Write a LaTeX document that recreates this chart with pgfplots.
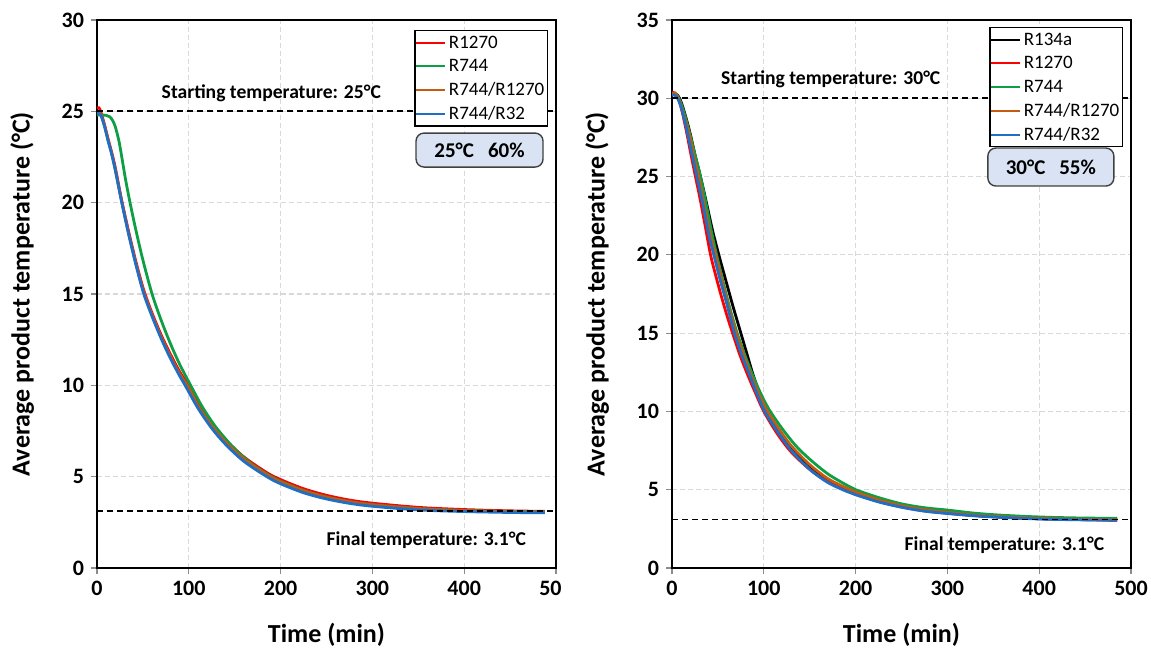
\documentclass[border=0pt]{standalone}
\usepackage{fontspec}
\setmainfont{Carlito}
\usepackage{pgfplots}
\pgfplotsset{compat=1.18}

\definecolor{cRed}{HTML}{FF0000}
\definecolor{cGreen}{HTML}{0E9F45}
\definecolor{cOrange}{HTML}{C55A11}
\definecolor{cBlue}{HTML}{1F6FC4}
\definecolor{tickgray}{HTML}{8C8C8C}
\definecolor{gridgray}{HTML}{D9D9D9}
\definecolor{boxfill}{HTML}{DAE3F3}
\definecolor{boxborder}{HTML}{404040}

\pgfplotsset{
  panel/.style={
    scale only axis, width=229.5pt, height=274pt,
    xmin=0, xmax=500, ymin=0,
    xtick={0,100,...,500},
    axis line style={line width=1.3pt},
    tick style={draw=tickgray, line width=0.6pt},
    major tick length=3pt,
    tick align=outside,
    xtick pos=bottom, ytick pos=left,
    grid=major,
    grid style={draw=gridgray, line width=0.6pt, dash pattern=on 2.5pt off 1.5pt},
    ticklabel style={font=\fontsize{11}{13}\selectfont\bfseries},
    /pgf/number format/assume math mode=true,
    label style={font=\fontsize{13}{15}\selectfont\bfseries},
    xlabel={Time (min)},
    ylabel={Average product temperature (°C)},
    xlabel style={at={(axis description cs:0.5,-0.122)}, anchor=center},
    ylabel style={at={(axis description cs:-0.163,0.5)}, anchor=center},
    legend cell align=left,
    legend style={anchor=north east, draw=black, line width=0.7pt, fill=white,
      inner xsep=0pt, inner ysep=0pt,
      font=\fontsize{9.5}{11}\selectfont,
      nodes={inner xsep=1.5pt, inner ysep=0.5pt, text height=8.2pt, text depth=2.7pt}},
    legend image code/.code={\draw[#1, line width=1pt] (0pt,0pt) -- (14.5pt,0pt);},
  },
  curve/.style={line width=1.4pt, smooth, tension=0.5},
  refline/.style={black, line width=0.9pt, dash pattern=on 3pt off 2pt, forget plot},
}
\tikzset{
  note/.style={anchor=base east, font=\fontsize{9.8}{12}\selectfont\bfseries},
  infobox/.style={draw=boxborder, fill=boxfill, rounded corners=4pt, line width=0.7pt,
    font=\fontsize{10.5}{12}\selectfont\bfseries},
}

\begin{document}
\begin{tikzpicture}
\begin{scope}
\clip (-60pt,-60pt) rectangle (232.4pt,300pt);
\begin{axis}[panel, at={(0,0)}, anchor=south west, ymax=30, ytick={0,5,...,30},
  legend style={at={(0.9826,0.9818)}}]
\addplot[curve, cRed] table {
t T
0 25.2
2 25.2
4 25.0
8 24.3
12 23.5
16 22.75
20 21.9
27 20.1
35 18.3
43 16.65
51 15.2
60 13.95
70 12.75
80 11.7
90 10.75
100 9.95
110 9.0
125 7.9
140 7.02
160 6.08
185 5.22
200 4.84
225 4.34
250 3.98
275 3.72
300 3.55
350 3.32
400 3.2
450 3.13
488 3.1
};
\addlegendentry{R1270}
\addplot[curve, cGreen] table {
t T
0 24.8
5 24.8
10 24.78
14 24.7
17 24.5
20 24.15
24 23.35
27 22.5
31 21.3
36 20.0
42 18.58
50 16.86
60 15.0
70 13.55
80 12.28
90 11.16
102 10.0
115 8.8
130 7.68
150 6.52
170 5.64
190 5.0
200 4.75
225 4.25
250 3.89
275 3.64
300 3.47
350 3.26
400 3.15
450 3.1
488 3.08
};
\addlegendentry{R744}
\addplot[curve, cOrange] table {
t T
0 25.0
4 24.85
8 24.25
12 23.45
16 22.7
20 21.8
27 20.05
35 18.2
43 16.55
51 15.1
60 13.85
70 12.65
80 11.58
90 10.63
100 9.85
110 8.88
125 7.78
140 6.9
160 5.96
185 5.11
200 4.72
225 4.23
250 3.88
275 3.63
300 3.46
350 3.25
400 3.14
450 3.08
488 3.06
};
\addlegendentry{R744/R1270}
\addplot[curve, cBlue] table {
t T
0 24.9
4 24.8
8 24.2
12 23.4
16 22.65
20 21.75
27 20.0
35 18.15
43 16.48
51 15.0
60 13.77
70 12.55
80 11.47
90 10.52
96 10.0
110 8.75
125 7.65
140 6.77
160 5.84
185 5.0
200 4.61
225 4.12
250 3.78
275 3.54
300 3.38
350 3.18
400 3.09
450 3.04
488 3.02
};
\addlegendentry{R744/R32}
\addplot[refline] coordinates {(0,25) (500,25)};
\addplot[refline] coordinates {(0,3.1) (500,3.1)};
\node[note] at (axis cs:317,25.7) {Starting temperature: 25°C};
\node[note] at (axis cs:475,1.25) {Final temperature: 3.1°C};
\node[infobox, minimum width=63.5pt, minimum height=17pt] at (axis cs:416.7,22.88) {25°C\hspace{7pt}60\%};
\end{axis}
\end{scope}

\begin{axis}[panel, at={(287.5pt,0)}, anchor=south west, ymax=35, ytick={0,5,...,35},
  legend style={at={(0.9825,0.9872)}}]
\addplot[curve, black] table {
t T
0 30.3
3 30.3
6 30.2
9 29.9
12 29.4
16 28.6
20 27.7
25 26.4
31 25.0
38 23.2
44 21.6
51 20.0
58 18.5
66 16.8
75 15.0
82 13.6
88 12.4
95 11.2
104 10.0
115 8.9
130 7.7
150 6.5
170 5.6
190 5.0
200 4.75
225 4.3
250 3.95
275 3.7
300 3.52
330 3.36
360 3.25
400 3.15
440 3.1
485 3.07
};
\addlegendentry{R134a}
\addplot[curve, cRed] table {
t T
0 30.35
3 30.35
6 30.1
9 29.6
12 28.9
16 27.8
20 26.6
25 25.15
30 23.75
36 21.9
42 20.0
48 18.6
54 17.3
60 16.1
66 15.0
74 13.6
82 12.4
90 11.3
100 10.0
115 8.55
130 7.4
150 6.3
170 5.5
190 4.95
200 4.7
225 4.25
250 3.9
275 3.65
300 3.5
330 3.35
360 3.25
400 3.15
440 3.1
485 3.05
};
\addlegendentry{R1270}
\addplot[curve, cGreen] table {
t T
0 30.3
3 30.3
6 30.15
9 29.8
12 29.3
16 28.5
20 27.6
25 26.4
31 25.0
37 23.3
43 21.5
49 19.9
56 18.2
63 16.6
71 15.0
80 13.5
88 12.3
97 11.1
106 10.1
120 8.9
135 7.8
150 6.95
170 6.0
190 5.3
200 5.0
225 4.5
250 4.1
275 3.85
300 3.7
330 3.5
360 3.37
400 3.26
440 3.2
485 3.17
};
\addlegendentry{R744}
\addplot[curve, cOrange] table {
t T
0 30.3
3 30.3
6 30.1
9 29.7
12 29.1
16 28.3
20 27.4
24 26.2
29 25.0
35 23.2
42 21.2
48 19.9
55 18.2
62 16.6
70 15.0
78 13.6
86 12.3
94 11.2
103 10.1
115 9.0
130 7.8
150 6.6
170 5.7
190 5.1
200 4.85
225 4.35
250 3.98
275 3.72
300 3.55
330 3.38
360 3.27
400 3.17
440 3.11
485 3.08
};
\addlegendentry{R744/R1270}
\addplot[curve, cBlue] table {
t T
0 30.2
3 30.2
6 30.0
9 29.6
12 29.0
16 28.0
20 26.9
27 25.0
33 23.4
40 21.3
46 19.9
52 18.5
60 16.8
68 15.0
76 13.6
84 12.4
92 11.2
101 10.0
115 8.7
130 7.5
150 6.3
170 5.45
190 4.9
200 4.68
225 4.22
250 3.88
275 3.63
300 3.48
330 3.33
360 3.23
400 3.13
440 3.08
485 3.05
};
\addlegendentry{R744/R32}
\addplot[refline] coordinates {(0,30) (500,30)};
\addplot[refline] coordinates {(0,3.1) (500,3.1)};
\node[note] at (axis cs:300,30.85) {Starting temperature: 30°C};
\node[note] at (axis cs:478.5,1.09) {Final temperature: 3.1°C};
\node[infobox, minimum width=63pt, minimum height=19pt] at (axis cs:412.7,25.61) {30°C\hspace{7pt}55\%};
\end{axis}

\pgfresetboundingbox
\useasboundingbox (-48.5pt,-40.5pt) rectangle (527pt,284pt);
\end{tikzpicture}
\end{document}
